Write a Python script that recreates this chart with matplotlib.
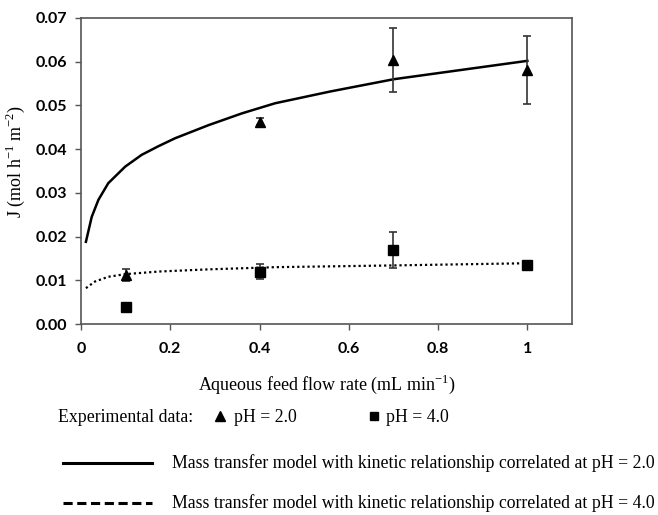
# J vs aqueous feed flow rate, pH 2.0 and 4.0
import matplotlib
matplotlib.use('Agg')
import matplotlib.pyplot as plt
from matplotlib.lines import Line2D

# experimental data
flow = [0.1, 0.4, 0.7, 1.0]
j_ph2 = [0.0112, 0.0463, 0.0604, 0.0581]
err_ph2 = [0.0013, 0.0008, 0.0074, 0.0078]
j_ph4 = [0.0038, 0.0120, 0.0169, 0.0135]
err_ph4 = [0.0, 0.0017, 0.0042, 0.0]

# model curves
model_x2 = [0.011, 0.024, 0.039, 0.061, 0.099, 0.136, 0.174, 0.211, 0.286,
            0.361, 0.435, 0.559, 0.701, 1.0]
model_j2 = [0.0188, 0.0245, 0.0284, 0.0322, 0.0360, 0.0387, 0.0407, 0.0425,
            0.0455, 0.0482, 0.0505, 0.0532, 0.0560, 0.0602]
model_x4 = [0.011, 0.031, 0.061, 0.099, 0.174, 0.286, 0.435, 0.701, 1.0]
model_j4 = [0.0082, 0.0097, 0.0108, 0.0114, 0.0120, 0.0125, 0.0130, 0.0134, 0.0139]

xticks = [0, 0.2, 0.4, 0.6, 0.8, 1.0]
xticklabels = ['0', '0.2', '0.4', '0.6', '0.8', '1']
yticks = [0.0, 0.01, 0.02, 0.03, 0.04, 0.05, 0.06, 0.07]

serif = 'Liberation Serif'
sans = 'Lato'
W, H = 658, 515

fig = plt.figure(figsize=(6.58, 5.15), dpi=100)
ax = fig.add_axes([81 / W, 1 - 324 / H, 491 / W, 306 / H])

ax.plot(model_x2, model_j2, color='black', lw=1.8)
ax.plot(model_x4, model_j4, color='black', lw=1.6, linestyle=(0, (1, 1.3)))

ax.errorbar(flow, j_ph2, yerr=err_ph2, fmt='^', color='black', ms=7.5,
            ecolor='#333333', elinewidth=1.2, capsize=3, capthick=1.2)
ax.errorbar(flow, j_ph4, yerr=err_ph4, fmt='s', color='black', ms=7,
            ecolor='#333333', elinewidth=1.2, capsize=3, capthick=1.2)

ax.set_xlim(0, 1.1)
ax.set_ylim(0, 0.07)
ax.set_xticks(xticks)
ax.set_xticklabels(xticklabels)
ax.set_yticks(yticks)
ax.set_yticklabels(['%.2f' % v for v in yticks])
for lab in ax.get_xticklabels() + ax.get_yticklabels():
    lab.set_fontfamily(sans)
    lab.set_fontweight('bold')
    lab.set_fontsize(11.5)
ax.tick_params(direction='out', length=4, width=1, color='#555555')
ax.tick_params(axis='x', pad=9)
ax.tick_params(axis='y', pad=6)
for s in ax.spines.values():
    s.set_color('#555555')
    s.set_linewidth(1.2)

ax.set_xlabel('Aqueous feed flow rate (mL min$^{\\mathregular{-1}}$)',
              fontfamily=serif, fontsize=13, labelpad=12)
ax.set_ylabel('J (mol h$^{\\mathregular{-1}}$ m$^{\\mathregular{-2}}$)',
              fontfamily=serif, fontsize=13, labelpad=2)
ax.yaxis.set_label_coords(-0.11, 0.53)

# legend rows below the axes
fs = 12.8
row1, row2, row3 = 1 - 417 / H, 1 - 463 / H, 1 - 503 / H
fig.text(58 / W, row1, 'Experimental data:', fontfamily=serif,
         fontsize=fs, va='center')
fig.add_artist(Line2D([220 / W], [row1 + 1 / H], marker='^', color='black',
                      ms=7, transform=fig.transFigure))
fig.text(234 / W, row1, 'pH = 2.0', fontfamily=serif, fontsize=fs,
         va='center')
fig.add_artist(Line2D([374 / W], [row1 + 1 / H], marker='s', color='black',
                      ms=6, transform=fig.transFigure))
fig.text(386 / W, row1, 'pH = 4.0', fontfamily=serif, fontsize=fs,
         va='center')

fig.add_artist(Line2D([63 / W, 152 / W], [row2] * 2, color='black',
                      lw=2.2, transform=fig.transFigure))
fig.text(172 / W, row2,
         'Mass transfer model with kinetic relationship correlated at pH = 2.0',
         fontfamily=serif, fontsize=fs, va='center')
fig.add_artist(Line2D([63 / W, 152 / W], [row3] * 2, color='black',
                      lw=2.2, linestyle=(0, (3, 1.5)), transform=fig.transFigure))
fig.text(172 / W, row3,
         'Mass transfer model with kinetic relationship correlated at pH = 4.0',
         fontfamily=serif, fontsize=fs, va='center')

fig.savefig('out.png', dpi=100)
